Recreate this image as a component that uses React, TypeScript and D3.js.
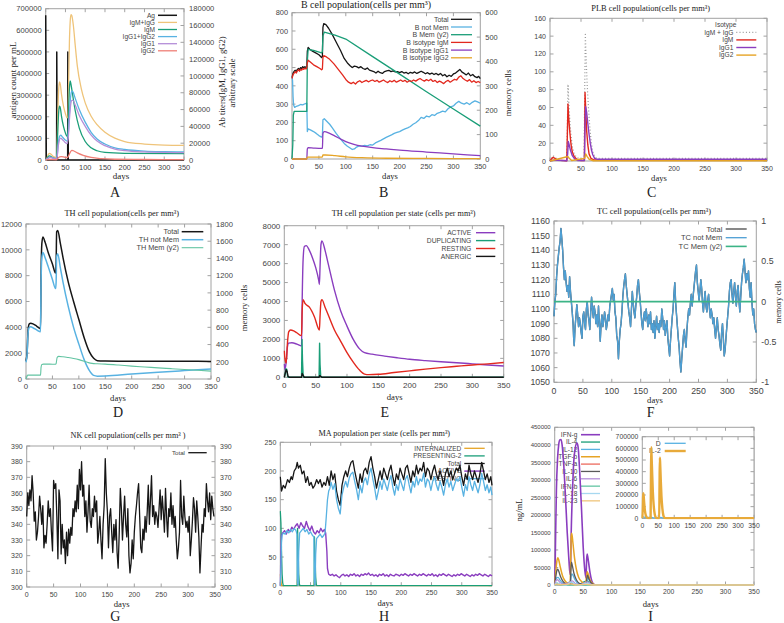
import React from 'react';
import * as d3 from 'd3';

type Pt = [number, number];

const dayTicks = [0, 50, 100, 150, 200, 250, 300, 350];

// ---------- A: antigen and antibody titers ----------
const agTicks = [0, 100000, 200000, 300000, 400000, 500000, 600000, 700000];
const abTicks = [0, 20000, 40000, 60000, 80000, 100000, 120000, 140000, 160000, 180000];
const antigen: Pt[] = [[0, 670000], [1.5, 0], [27.6, 0], [28, 500000], [29.2, 0], [55.6, 0], [56, 500000], [57.2, 0], [350, 0]];
const igmIgg: Pt[] = [[0, 0], [3, 2000], [7, 7000], [10, 8000], [14, 6500], [20, 4000], [27, 2500], [29, 20000], [31, 60000], [33, 85000], [35, 93000], [37, 90000], [40, 78000], [45, 64000], [50, 55000], [54, 50000], [56, 52000], [58, 90000], [60, 140000], [62, 165000], [64, 173000], [66, 172000], [70, 160000], [75, 135000], [80, 112000], [90, 85000], [100, 68000], [115, 52000], [130, 42000], [150, 33000], [175, 26000], [200, 22000], [250, 19000], [300, 17800], [350, 17500]];
const igmTiter: Pt[] = [[0, 0], [3, 1500], [7, 4500], [10, 5000], [15, 3500], [22, 2000], [27, 1500], [29, 15000], [31, 40000], [33, 58000], [35, 64000], [37, 62000], [40, 52000], [45, 40000], [50, 32000], [54, 28000], [56, 32000], [58, 60000], [60, 85000], [62, 94000], [64, 90000], [68, 78000], [75, 58000], [85, 38000], [100, 22000], [115, 14500], [130, 11000], [150, 9000], [200, 8000], [350, 7500]];
const igg12Titer: Pt[] = [[0, 0], [5, 2000], [10, 3500], [15, 3000], [27, 1500], [29, 5000], [32, 20000], [35, 28000], [38, 29500], [42, 27500], [48, 24500], [54, 22500], [57, 30000], [60, 55000], [63, 75000], [66, 82000], [69, 81000], [75, 73000], [85, 60000], [100, 45000], [115, 33000], [130, 25000], [150, 19000], [175, 14500], [200, 12500], [250, 10500], [300, 9800], [350, 9500]];
const igg1Titer: Pt[] = [[0, 0], [5, 1700], [10, 3000], [15, 2500], [27, 1200], [29, 4000], [32, 17000], [35, 24500], [38, 26000], [42, 24500], [48, 21500], [54, 19500], [57, 26000], [60, 48000], [63, 65000], [66, 71000], [69, 71000], [75, 65000], [85, 53000], [100, 40000], [115, 29500], [130, 22500], [150, 17000], [175, 13000], [200, 11200], [250, 9600], [300, 9000], [350, 8800]];
const igg2Titer: Pt[] = [[0, 0], [5, 400], [10, 600], [27, 300], [30, 1500], [35, 3800], [40, 4000], [48, 3300], [55, 3000], [58, 5000], [62, 9000], [66, 11500], [70, 11000], [80, 8500], [95, 5500], [115, 3000], [140, 1600], [175, 900], [250, 600], [350, 500]];

// ---------- B: B cell population ----------
const bTicks = [0, 100, 200, 300, 400, 500, 600, 700, 800];
const bMemTicks = [0, 100, 200, 300, 400, 500, 600];
const bTotal: Pt[] = [[0, 445], [2, 470], [4, 480], [6, 485], [8, 478], [10, 490], [12, 495], [14, 488], [16, 500], [18, 495], [20, 505], [22, 498], [24, 505], [26, 500], [27.5, 505], [28.5, 590], [30, 610], [33, 600], [38, 590], [44, 580], [50, 570], [55, 555], [56.5, 560], [57.5, 720], [59, 740], [63, 735], [68, 715], [75, 680], [82, 640], [90, 595], [97, 550], [103, 525], [108, 510], [112, 500], [116, 508], [120, 505], [124, 498], [128, 505], [132, 495], [136, 490], [140, 498], [144, 486], [148, 482], [152, 478], [156, 470], [160, 480], [164, 472], [168, 468], [172, 478], [176, 482], [180, 485], [184, 478], [188, 482], [192, 476], [196, 478], [200, 472], [204, 478], [208, 470], [212, 474], [216, 466], [220, 474], [224, 470], [228, 476], [232, 468], [236, 474], [240, 480], [244, 474], [248, 466], [252, 472], [256, 464], [260, 470], [264, 462], [268, 468], [272, 460], [276, 468], [280, 455], [284, 462], [288, 450], [292, 458], [296, 452], [300, 465], [304, 470], [308, 480], [312, 490], [316, 475], [320, 468], [324, 460], [328, 470], [332, 455], [336, 462], [340, 450], [344, 445], [347, 452], [350, 440]];
const bNotMem: Pt[] = [[0, 450], [1, 430], [2, 340], [3, 295], [5, 282], [8, 288], [12, 292], [16, 298], [20, 296], [24, 302], [27.5, 305], [28.5, 150], [30, 165], [35, 158], [40, 150], [45, 140], [50, 128], [55, 120], [56.5, 125], [57.5, 215], [60, 220], [65, 205], [70, 190], [75, 170], [82, 140], [90, 110], [97, 85], [103, 70], [108, 60], [112, 52], [116, 55], [120, 65], [125, 72], [130, 70], [135, 75], [140, 72], [145, 78], [150, 76], [155, 88], [160, 95], [165, 102], [170, 110], [175, 118], [180, 125], [185, 132], [190, 140], [195, 145], [200, 150], [205, 158], [210, 165], [215, 170], [220, 178], [225, 190], [230, 198], [235, 210], [240, 228], [245, 222], [250, 235], [255, 230], [260, 242], [265, 238], [270, 250], [275, 255], [280, 262], [285, 258], [290, 275], [295, 285], [300, 290], [305, 305], [310, 315], [315, 305], [320, 300], [325, 308], [330, 298], [335, 310], [340, 318], [345, 312], [350, 305]];
const bMem: Pt[] = [[0, 0], [1.5, 60], [2.5, 180], [4, 195], [27.5, 195], [28.5, 400], [30, 450], [40, 445], [55, 435], [56.5, 440], [57.5, 505], [60, 520], [80, 508], [100, 492], [150, 420], [200, 348], [250, 276], [300, 205], [350, 135]];
const bIgM: Pt[] = [[0, 440], [2, 462], [4, 470], [6, 478], [8, 470], [10, 482], [12, 488], [14, 480], [16, 490], [18, 486], [20, 495], [22, 490], [24, 497], [26, 492], [27.5, 498], [28.5, 525], [30, 540], [34, 530], [40, 515], [46, 505], [52, 495], [55, 488], [56.5, 492], [57.5, 555], [59, 565], [64, 558], [70, 545], [78, 520], [86, 490], [94, 460], [100, 435], [105, 420], [110, 412], [114, 420], [118, 410], [122, 422], [126, 428], [130, 418], [134, 425], [138, 430], [142, 422], [146, 428], [150, 432], [154, 424], [158, 430], [162, 420], [166, 426], [170, 432], [174, 424], [178, 418], [182, 428], [186, 422], [190, 430], [194, 420], [198, 426], [202, 432], [206, 424], [210, 430], [214, 420], [218, 428], [222, 424], [226, 432], [230, 426], [234, 434], [238, 440], [242, 432], [246, 426], [250, 434], [254, 428], [258, 436], [262, 424], [266, 430], [270, 418], [274, 426], [278, 420], [282, 412], [286, 424], [290, 430], [294, 420], [298, 428], [302, 436], [306, 432], [310, 448], [314, 455], [318, 440], [322, 432], [326, 425], [330, 434], [334, 420], [338, 428], [342, 418], [346, 424], [350, 418]];
const bIgG1: Pt[] = [[0, 0], [27.5, 0], [28.5, 55], [30, 62], [40, 60], [55, 58], [56.5, 60], [57.5, 140], [60, 150], [70, 140], [80, 125], [90, 110], [100, 95], [115, 80], [130, 70], [150, 62], [175, 55], [200, 48], [250, 38], [300, 28], [350, 18]];
const bIgG2: Pt[] = [[0, 0], [27.5, 0], [28.5, 10], [55, 10], [56.5, 12], [57.5, 22], [62, 22], [80, 18], [100, 12], [130, 7], [175, 4], [250, 3], [350, 2]];

// ---------- C: plasma B cells ----------
const plbTicks = [0, 20, 40, 60, 80, 100, 120, 140, 160];
const plbAll: Pt[] = [[0, 0], [3, 3], [5, 6], [8, 4], [12, 2], [20, 0.5], [27, 0.5], [28, 40], [29, 86], [30, 70], [32, 45], [34, 28], [36, 16], [39, 8], [43, 4], [50, 2], [55, 2], [56, 80], [57, 142], [58, 120], [60, 85], [62, 60], [64, 40], [66, 25], [68, 14], [70, 8], [73, 4], [78, 3], [100, 3], [350, 3]];
const plbIgM: Pt[] = [[0, 0], [3, 3], [5, 4], [8, 3], [12, 1], [27, 0.3], [28, 30], [29, 64], [30, 50], [32, 32], [34, 18], [36, 10], [39, 5], [43, 2], [50, 0.5], [55.5, 0.5], [56.5, 77], [57.5, 60], [59, 35], [61, 18], [63, 8], [66, 3], [70, 1.5], [80, 1], [350, 1]];
const plbIgG1: Pt[] = [[0, 0], [5, 1], [27, 0.2], [28.5, 8], [29.5, 22], [31, 18], [33, 12], [36, 6], [40, 2], [45, 0.5], [55.5, 0.5], [56.5, 40], [57.5, 61], [59, 55], [61, 42], [63, 30], [65, 20], [67, 12], [69, 7], [72, 3], [76, 2], [350, 2]];
const plbIgG2: Pt[] = [[0, 0], [29, 5], [31, 3], [35, 0.5], [56, 3], [57.5, 8], [60, 5], [63, 2], [70, 0.3], [350, 0.3]];

// ---------- D: TH cells ----------
const thTicks = [0, 2000, 4000, 6000, 8000, 10000, 12000];
const thMemTicks = [0, 200, 400, 600, 800, 1000, 1200, 1400, 1600, 1800];
const thTotal: Pt[] = [[0, 1400], [2, 2000], [4, 3800], [6, 4250], [9, 4320], [14, 4250], [20, 4100], [27.5, 3900], [28.5, 8000], [30, 10500], [32, 11000], [36, 10600], [42, 9800], [50, 8900], [56, 8200], [57, 9000], [58, 11400], [60, 11500], [65, 10500], [70, 9400], [80, 7500], [90, 6000], [100, 4600], [110, 3200], [120, 2100], [128, 1600], [135, 1420], [150, 1400], [200, 1380], [250, 1380], [300, 1370], [350, 1360]];
const thNotMem: Pt[] = [[0, 1300], [2, 1900], [4, 3600], [6, 3980], [9, 4050], [14, 3950], [20, 3800], [27.5, 3650], [28.5, 7500], [30, 9400], [32, 9800], [36, 9400], [42, 8700], [50, 7700], [56, 7000], [57, 7500], [58, 9500], [60, 9700], [65, 8600], [70, 7500], [80, 5600], [90, 4000], [100, 2700], [110, 1500], [120, 650], [128, 280], [135, 220], [150, 230], [200, 380], [250, 520], [300, 650], [350, 780]];
const thMem: Pt[] = [[0, 0], [1.5, 150], [3, 300], [27.5, 300], [28.5, 900], [30, 1120], [33, 1150], [45, 1150], [56, 1140], [57, 1200], [59, 1680], [62, 1750], [70, 1720], [80, 1660], [90, 1590], [100, 1500], [110, 1380], [118, 1270], [125, 1210], [135, 1180], [150, 1150], [175, 1080], [200, 1000], [225, 930], [250, 860], [275, 800], [300, 740], [325, 680], [350, 610]];

// ---------- E: TH cells per state ----------
const thStateTicks = [0, 1000, 2000, 3000, 4000, 5000, 6000, 7000, 8000];
const thActive: Pt[] = [[0, 700], [1, 400], [3, 800], [5, 1600], [7, 1800], [12, 1820], [20, 1750], [27.5, 1650], [28.5, 4000], [30, 6200], [32, 6900], [35, 6950], [40, 6700], [45, 6300], [50, 5800], [55, 5100], [56, 4900], [57, 5800], [58.5, 7000], [60, 7200], [65, 6700], [70, 6000], [80, 4600], [90, 3500], [100, 2700], [110, 2000], [120, 1500], [128, 1300], [140, 1220], [160, 1120], [180, 1030], [200, 950], [225, 880], [250, 820], [275, 770], [300, 710], [325, 650], [350, 600]];
const thDuplicating: Pt[] = [[0, 0], [1, 100], [2.5, 450], [4, 420], [5, 100], [6, 0], [27.5, 0], [28.3, 2000], [29, 900], [30, 150], [31, 0], [55.5, 0], [56.3, 1800], [57, 700], [58, 100], [59, 0], [350, 0]];
const thResting: Pt[] = [[0, 1400], [1, 1000], [3, 750], [5, 1800], [7, 2400], [10, 2500], [15, 2450], [20, 2350], [27.5, 2200], [28.5, 3500], [30, 4100], [33, 3900], [40, 3700], [48, 3200], [56, 2500], [57, 3200], [58.5, 4000], [60, 4100], [65, 3700], [70, 3300], [80, 2500], [90, 1900], [100, 1300], [110, 800], [120, 380], [128, 170], [135, 140], [150, 160], [175, 250], [200, 340], [225, 430], [250, 510], [275, 580], [300, 650], [325, 710], [350, 780]];
const thAnergic: Pt[] = [[0, 0], [1, 150], [3, 400], [4.5, 300], [6, 50], [8, 0], [27.5, 0], [28.5, 200], [30, 100], [32, 0], [55.5, 0], [56.5, 100], [58, 50], [60, 0], [350, 0]];

// ---------- F: TC cells ----------
const tcTicks = [1050, 1060, 1070, 1080, 1090, 1100, 1110, 1120, 1130, 1140, 1150, 1160];
const tcMemTicks = [-1, -0.5, 0, 0.5, 1];
const tcNotMem: Pt[] = [[0, 1095], [1.5, 1105], [3, 1110], [4.5, 1122], [6, 1130], [7.5, 1136], [9, 1142], [10.5, 1146], [12, 1155], [13.5, 1148], [15, 1140], [16.5, 1128], [18, 1120], [19.5, 1126], [21, 1118], [22.5, 1112], [24, 1116], [25.5, 1108], [27, 1122], [28.5, 1112], [30, 1105], [31.5, 1098], [33, 1090], [34, 1080], [35, 1075], [36.5, 1088], [38, 1095], [39.5, 1103], [41, 1096], [42.5, 1088], [44, 1094], [45.5, 1090], [47, 1084], [48.5, 1080], [50, 1095], [51.5, 1098], [53, 1090], [54.5, 1086], [56, 1100], [57.5, 1105], [59, 1096], [60.5, 1092], [62, 1086], [63.5, 1098], [65, 1108], [66.5, 1100], [68, 1094], [69.5, 1102], [71, 1098], [72.5, 1090], [74, 1096], [75.5, 1088], [77, 1102], [78.5, 1090], [80, 1078], [81.5, 1090], [83, 1096], [84.5, 1088], [86, 1092], [87.5, 1098], [89, 1094], [90.5, 1086], [92, 1090], [93.5, 1096], [95, 1092], [96.5, 1102], [98, 1106], [99.5, 1110], [101, 1114], [102.5, 1106], [104, 1110], [105.5, 1098], [107, 1094], [108.5, 1082], [110, 1078], [111.5, 1066], [113, 1078], [114.5, 1086], [116, 1090], [117.5, 1098], [119, 1108], [120.5, 1115], [122, 1120], [123.5, 1124], [125, 1116], [126.5, 1110], [128, 1104], [129.5, 1098], [131, 1094], [132.5, 1088], [134, 1100], [135.5, 1112], [137, 1104], [138.5, 1098], [140, 1094], [141.5, 1102], [143, 1108], [144.5, 1116], [146, 1120], [147.5, 1112], [149, 1106], [150.5, 1098], [152, 1090], [153.5, 1086], [155, 1094], [156.5, 1098], [158, 1092], [159.5, 1100], [161, 1094], [162.5, 1088], [164, 1096], [165.5, 1090], [167, 1098], [168.5, 1086], [170, 1090], [171.5, 1084], [173, 1092], [174.5, 1080], [176, 1088], [177.5, 1095], [179, 1086], [180.5, 1090], [182, 1084], [183.5, 1092], [185, 1088], [186.5, 1100], [188, 1094], [189.5, 1086], [191, 1092], [192.5, 1082], [194, 1088], [195.5, 1092], [197, 1080], [198.5, 1074], [200, 1068], [201.5, 1078], [203, 1086], [204.5, 1094], [206, 1100], [207.5, 1110], [209, 1118], [210.5, 1104], [212, 1096], [213.5, 1088], [215, 1080], [216.5, 1074], [218, 1064], [219.5, 1057], [221, 1066], [222.5, 1074], [224, 1082], [225.5, 1086], [227, 1078], [228.5, 1074], [230, 1086], [231.5, 1094], [233, 1100], [234.5, 1096], [236, 1104], [237.5, 1110], [239, 1102], [240.5, 1108], [242, 1114], [243.5, 1120], [245, 1126], [246.5, 1130], [248, 1118], [249.5, 1112], [251, 1106], [252.5, 1112], [254, 1120], [255.5, 1114], [257, 1104], [258.5, 1098], [260, 1106], [261.5, 1112], [263, 1102], [264.5, 1098], [266, 1106], [267.5, 1110], [269, 1100], [270.5, 1094], [272, 1100], [273.5, 1096], [275, 1090], [276.5, 1094], [278, 1086], [279.5, 1080], [281, 1088], [282.5, 1094], [284, 1086], [285.5, 1082], [287, 1076], [288.5, 1072], [290, 1084], [291.5, 1090], [293, 1080], [294.5, 1068], [296, 1072], [297.5, 1080], [299, 1088], [300.5, 1095], [302, 1102], [303.5, 1112], [305, 1118], [306.5, 1120], [308, 1110], [309.5, 1104], [311, 1112], [312.5, 1118], [314, 1108], [315.5, 1102], [317, 1112], [318.5, 1116], [320, 1106], [321.5, 1098], [323, 1108], [324.5, 1118], [326, 1124], [327.5, 1128], [329, 1134], [330.5, 1126], [332, 1118], [333.5, 1124], [335, 1120], [336.5, 1126], [338, 1114], [339.5, 1108], [341, 1118], [342.5, 1104], [344, 1096], [345.5, 1100], [347, 1090], [348.5, 1086], [350, 1084]];
const tcMem: Pt[] = [[0, 0], [350, 0]];

// ---------- G: NK cells ----------
const nkTicks = [300, 310, 320, 330, 340, 350, 360, 370, 380, 390];
const nkTotal: Pt[] = [[0, 345], [2, 360], [4, 352], [6, 362], [8, 355], [10, 371], [12, 360], [14, 342], [16, 348], [18, 330], [20, 335], [22, 345], [24, 358], [26, 350], [28, 340], [30, 352], [32, 325], [34, 333], [36, 328], [38, 340], [40, 355], [42, 345], [44, 350], [46, 335], [48, 323], [50, 368], [52, 363], [54, 366], [56, 345], [58, 318], [60, 362], [62, 355], [64, 321], [66, 340], [68, 325], [70, 330], [72, 315], [74, 335], [76, 320], [78, 337], [80, 328], [82, 338], [84, 333], [86, 350], [88, 345], [90, 355], [92, 348], [94, 365], [96, 350], [98, 375], [100, 362], [102, 380], [104, 358], [106, 365], [108, 345], [110, 355], [112, 335], [114, 348], [116, 365], [118, 342], [120, 338], [122, 350], [124, 345], [126, 358], [128, 348], [130, 355], [132, 328], [134, 335], [136, 345], [138, 330], [140, 318], [142, 340], [144, 352], [146, 382], [148, 360], [150, 348], [152, 325], [154, 345], [156, 350], [158, 335], [160, 322], [162, 340], [164, 330], [166, 343], [168, 322], [170, 312], [172, 335], [174, 363], [176, 350], [178, 330], [180, 345], [182, 358], [184, 340], [186, 332], [188, 350], [190, 320], [192, 309], [194, 315], [196, 330], [198, 318], [200, 335], [202, 345], [204, 352], [206, 360], [208, 366], [210, 345], [212, 325], [214, 322], [216, 337], [218, 330], [220, 345], [222, 335], [224, 348], [226, 365], [228, 340], [230, 355], [232, 371], [234, 345], [236, 352], [238, 340], [240, 348], [242, 345], [244, 338], [246, 350], [248, 362], [250, 343], [252, 358], [254, 348], [256, 335], [258, 363], [260, 345], [262, 332], [264, 350], [266, 345], [268, 360], [270, 340], [272, 352], [274, 338], [276, 345], [278, 330], [280, 318], [282, 325], [284, 335], [286, 368], [288, 345], [290, 340], [292, 358], [294, 345], [296, 338], [298, 342], [300, 335], [302, 345], [304, 320], [306, 330], [308, 342], [310, 357], [312, 350], [314, 335], [316, 355], [318, 345], [320, 332], [322, 309], [324, 325], [326, 340], [328, 335], [330, 350], [332, 345], [334, 366], [336, 355], [338, 348], [340, 360], [342, 343], [344, 358], [346, 350], [348, 345]];

// ---------- H: macrophages per state ----------
const maTicks = [0, 50, 100, 150, 200, 250];
const maInternalized: Pt[] = [[0, 20], [1, 8], [2, 0], [28, 0], [28.5, 12], [29.5, 3], [30.5, 0], [56, 0], [56.5, 10], [57.5, 3], [58.5, 0], [350, 0]];
const maPresenting: Pt[] = [[0, 130], [1, 110], [2, 60], [3, 20], [4, 5], [5, 0], [28, 0], [28.5, 100], [29.5, 60], [30.5, 20], [31.5, 3], [32.5, 0], [56, 0], [56.5, 85], [57.5, 50], [58.5, 15], [59.5, 2], [60.5, 0], [350, 0]];
const maTotal: Pt[] = [[0, 190], [2, 165], [5, 175], [8, 170], [12, 185], [15, 180], [18, 190], [20, 185], [23, 200], [26, 205], [28, 215], [30, 205], [33, 210], [36, 195], [39, 200], [42, 180], [45, 190], [48, 175], [51, 180], [54, 170], [57, 175], [60, 185], [63, 178], [66, 185], [69, 172], [72, 180], [75, 175], [78, 190], [81, 175], [84, 200], [87, 185], [90, 195], [93, 165], [96, 150], [99, 140], [102, 175], [105, 190], [108, 200], [111, 190], [114, 205], [117, 215], [120, 218], [123, 200], [126, 185], [129, 170], [132, 195], [135, 180], [138, 200], [141, 205], [144, 195], [147, 215], [150, 225], [153, 205], [156, 190], [159, 170], [162, 185], [165, 200], [168, 185], [171, 205], [174, 195], [177, 185], [180, 200], [183, 210], [186, 190], [189, 175], [192, 195], [195, 185], [198, 205], [201, 195], [204, 185], [207, 205], [210, 210], [213, 195], [216, 180], [219, 200], [222, 190], [225, 210], [228, 195], [231, 205], [234, 200], [237, 215], [240, 190], [243, 205], [246, 200], [249, 185], [252, 200], [255, 210], [258, 195], [261, 185], [264, 200], [267, 190], [270, 175], [273, 195], [276, 205], [279, 190], [282, 200], [285, 185], [288, 195], [291, 205], [294, 200], [297, 210], [300, 190], [303, 175], [306, 195], [309, 185], [312, 210], [315, 195], [318, 185], [321, 200], [324, 190], [327, 180], [330, 195], [333, 215], [336, 200], [339, 185], [342, 195], [345, 180], [348, 190], [350, 175]];
const maActive: Pt[] = [[0, 0], [1, 60], [2, 88], [4, 92], [7, 96], [10, 90], [13, 98], [16, 94], [19, 102], [22, 98], [25, 104], [28, 108], [31, 100], [34, 110], [37, 104], [40, 100], [43, 112], [46, 102], [49, 96], [52, 104], [55, 94], [58, 90], [61, 96], [64, 92], [67, 100], [70, 94], [73, 98], [75, 92], [77, 60], [78, 30], [80, 20], [83, 18], [86, 20], [89, 17], [92, 19], [95, 16], [98, 14], [101, 18], [104, 20], [107, 17], [110, 19], [113, 16], [116, 20], [119, 18], [122, 21], [125, 17], [128, 19], [131, 16], [134, 20], [137, 18], [140, 21], [143, 19], [146, 22], [149, 18], [152, 20], [155, 17], [158, 19], [161, 16], [164, 20], [167, 18], [170, 21], [173, 17], [176, 19], [179, 16], [182, 20], [185, 18], [188, 17], [191, 20], [194, 19], [197, 17], [200, 20], [203, 18], [206, 21], [209, 19], [212, 17], [215, 20], [218, 18], [221, 21], [224, 19], [227, 17], [230, 20], [233, 18], [236, 21], [239, 19], [242, 17], [245, 20], [248, 18], [251, 21], [254, 17], [257, 19], [260, 16], [263, 20], [266, 18], [269, 21], [272, 19], [275, 17], [278, 20], [281, 18], [284, 16], [287, 19], [290, 17], [293, 20], [296, 18], [299, 21], [302, 19], [305, 17], [308, 20], [311, 18], [314, 16], [317, 19], [320, 17], [323, 20], [326, 18], [329, 21], [332, 19], [335, 17], [338, 20], [341, 18], [344, 16], [347, 19], [350, 17]];
const maResting: Pt[] = [[0, 0], [1, 30], [2, 75], [3, 88], [5, 92], [8, 90], [11, 96], [14, 92], [17, 98], [20, 94], [23, 100], [26, 96], [27.5, 90], [28.5, 5], [29.5, 0], [30.5, 60], [32, 92], [35, 96], [38, 100], [41, 94], [44, 98], [47, 90], [50, 94], [53, 88], [55.5, 85], [56.5, 5], [57.5, 0], [58.5, 55], [60, 82], [63, 86], [66, 90], [69, 84], [72, 88], [74, 92], [76, 120], [78, 150], [80, 165], [82, 170], [84, 180], [87, 168], [90, 178], [93, 150], [96, 135], [99, 125], [102, 158], [105, 172], [108, 182], [111, 172], [114, 188], [117, 195], [120, 198], [123, 182], [126, 168], [129, 150], [132, 175], [135, 162], [138, 182], [141, 188], [144, 176], [147, 195], [150, 205], [153, 186], [156, 170], [159, 150], [162, 165], [165, 182], [168, 168], [171, 186], [174, 176], [177, 166], [180, 182], [183, 192], [186, 172], [189, 158], [192, 176], [195, 166], [198, 186], [201, 176], [204, 166], [207, 186], [210, 192], [213, 176], [216, 162], [219, 182], [222, 172], [225, 190], [228, 176], [231, 186], [234, 182], [237, 196], [240, 172], [243, 186], [246, 182], [249, 166], [252, 182], [255, 190], [258, 176], [261, 166], [264, 182], [267, 172], [270, 158], [273, 176], [276, 186], [279, 172], [282, 182], [285, 166], [288, 176], [291, 186], [294, 182], [297, 190], [300, 172], [303, 156], [306, 176], [309, 166], [312, 190], [315, 176], [318, 166], [321, 182], [324, 172], [327, 162], [330, 176], [333, 196], [336, 182], [339, 166], [342, 176], [345, 162], [348, 172], [350, 158]];

// ---------- I: cytokines and interleukins ----------
const cytoTicks = [0, 50000, 100000, 150000, 200000, 250000, 300000, 350000, 400000, 450000];
const il2Ticks = [0, 100000, 200000, 300000, 400000, 500000, 600000, 700000];
const ifnG: Pt[] = [[0, 0], [1, 80000], [2, 180000], [3, 270000], [5, 360000], [7, 400000], [9, 414000], [11, 415000], [13, 400000], [16, 340000], [19, 250000], [22, 150000], [25, 70000], [27, 30000], [28, 60000], [29, 150000], [31, 260000], [33, 340000], [36, 390000], [39, 405000], [41, 395000], [44, 320000], [47, 220000], [50, 110000], [53, 40000], [55, 20000], [56, 70000], [57, 88000], [59, 70000], [62, 35000], [65, 12000], [68, 3000], [72, 0], [350, 0]];
const il4: Pt[] = [[0, 0], [3, 5000], [6, 4000], [12, 800], [28.5, 8000], [33, 3000], [40, 500], [57, 12000], [62, 3000], [70, 0], [350, 0]];
const il12: Pt[] = [[0, 0], [2, 15000], [4, 21000], [6, 22000], [9, 15000], [13, 7000], [18, 2500], [27.5, 1000], [28.5, 20000], [30, 32000], [32, 28000], [35, 17000], [39, 7000], [45, 2000], [55.5, 1000], [56.5, 14000], [58, 20000], [60, 15000], [63, 7000], [68, 1500], [72, 0], [350, 0]];
const tgfB: Pt[] = [[0, 0], [2, 40000], [4, 70000], [5.5, 78000], [7, 72000], [10, 50000], [14, 25000], [18, 12000], [22, 6000], [27, 3000], [28, 60000], [29, 140000], [30, 148000], [32, 120000], [35, 75000], [38, 45000], [42, 22000], [47, 10000], [54, 4000], [56, 25000], [57, 38000], [59, 30000], [62, 15000], [66, 5000], [70, 1000], [75, 0], [350, 0]];
const tnfA: Pt[] = [[0, 0], [3, 3000], [8, 1000], [28.5, 4000], [34, 1000], [57, 3000], [63, 500], [70, 0], [350, 0]];
const il10: Pt[] = [[0, 0], [2, 25000], [4, 42000], [5.5, 45000], [7, 40000], [10, 25000], [14, 12000], [18, 5000], [24, 1500], [27.5, 1000], [28.5, 45000], [29.5, 65000], [31, 55000], [34, 32000], [38, 15000], [43, 5000], [50, 1500], [55.5, 1000], [56.5, 20000], [57.5, 28000], [60, 18000], [63, 8000], [67, 2000], [72, 0], [350, 0]];
const il6: Pt[] = [[0, 0], [2, 12000], [5, 15000], [9, 8000], [15, 2000], [28.5, 10000], [31, 12000], [36, 4000], [45, 500], [56.5, 9000], [60, 6000], [66, 1000], [72, 0], [350, 0]];
const ifnB: Pt[] = [[0, 0], [3, 2000], [10, 0], [350, 0]];
const il18: Pt[] = [[0, 0], [4, 6000], [10, 2000], [20, 0], [29, 8000], [36, 2000], [45, 0], [57, 5000], [64, 1000], [70, 0], [350, 0]];
const il23: Pt[] = [[0, 0], [3, 2500], [10, 500], [29, 3000], [36, 0], [57, 2000], [64, 0], [350, 0]];
const dangerSignal: Pt[] = [[0, 0], [2, 8000], [5, 12000], [10, 5000], [28, 9000], [35, 4000], [56, 8000], [65, 2000], [80, 0], [350, 0]];
const il2: Pt[] = [[0, 0], [1, 60000], [2, 150000], [3, 215000], [4, 200000], [6, 130000], [8, 70000], [11, 25000], [15, 5000], [20, 0], [26, 0], [27, 300000], [28, 610000], [29, 540000], [31, 380000], [33, 230000], [36, 100000], [39, 35000], [43, 5000], [48, 0], [53, 0], [54, 280000], [55, 520000], [56, 470000], [58, 320000], [60, 190000], [63, 80000], [66, 25000], [70, 3000], [75, 0], [350, 0]];

const SANS = 'Liberation Sans, Arial, sans-serif';
const SERIF = 'Liberation Serif, Times New Roman, serif';

const COL = {
  black: '#161616',
  purple: '#8a3dbf',
  green: '#1a9e78',
  blue: '#58b2e2',
  orange: '#e6a425',
  red: '#e2281e',
  lavender: '#b48ed8',
  salmon: '#ef7f76',
  gray: '#5a5a5a',
  teal: '#62c4a2',
  pale: '#a6d8f0',
  sand: '#efc47a',
};

interface Series { label?: string; data: Pt[]; color: string; w?: number; dash?: string; y2?: boolean; smooth?: boolean }
interface Label { text: string; x: number; y: number; size: number; rot?: boolean; font?: string }
interface Legend { x: number; l0: number; l1: number; y0: number; dy: number; fs: number; title?: [string, number, number] }
interface Spec {
  id: string;
  box: [number, number, number, number];
  yDom: [number, number];
  yTicks: number[];
  y2Dom?: [number, number];
  y2Ticks?: number[];
  mirrorLabels?: boolean;
  fsY: number;
  fsX: number;
  bg?: boolean;
  legend?: Legend;
  series: Series[];
  labels: Label[];
}

const serif = (text: string, x: number, y: number, size: number, rot = false): Label => ({ text, x, y, size, rot, font: SERIF });

const panels: Spec[] = [
  {
    id: 'a', box: [45.7, 8.7, 184, 160], yDom: [0, 700000], yTicks: agTicks, y2Dom: [0, 180000], y2Ticks: abTicks,
    fsY: 7.6, fsX: 7.4,
    legend: { x: 155, l0: 158, l1: 177, y0: 15.3, dy: 7.1, fs: 6.6 },
    series: [
      { label: 'Ag', data: antigen, color: COL.black, w: 1.5 },
      { label: 'IgM+IgG', data: igmIgg, color: COL.sand, y2: true, smooth: true },
      { label: 'IgM', data: igmTiter, color: COL.green, y2: true, smooth: true },
      { label: 'IgG1+IgG2', data: igg12Titer, color: COL.blue, y2: true, smooth: true },
      { label: 'IgG1', data: igg1Titer, color: COL.lavender, y2: true, smooth: true },
      { label: 'IgG2', data: igg2Titer, color: COL.salmon, y2: true, smooth: true },
    ],
    labels: [
      serif('days', 121, 178.5, 9),
      serif('antigen count per mL', 12.5, 80, 9, true),
      serif('Ab titers(IgM, IgG1, gG2)', 221.5, 82, 8.6, true),
      serif('arbitrary scale', 232, 83, 8.6, true),
      serif('A', 115, 197, 14),
    ],
  },
  {
    id: 'b', box: [292, 12.7, 480.3, 159], yDom: [0, 800], yTicks: bTicks, y2Dom: [0, 600], y2Ticks: bMemTicks,
    fsY: 7.4, fsX: 7.4,
    legend: { x: 448.7, l0: 451, l1: 472, y0: 19.3, dy: 7.7, fs: 7 },
    series: [
      { label: 'Total', data: bTotal, color: COL.black },
      { label: 'B not Mem', data: bNotMem, color: COL.blue },
      { label: 'B Mem (y2)', data: bMem, color: COL.green, y2: true },
      { label: 'B isotype IgM', data: bIgM, color: COL.red },
      { label: 'B isotype IgG1', data: bIgG1, color: COL.purple, smooth: true },
      { label: 'B isotype IgG2', data: bIgG2, color: COL.orange, smooth: true },
    ],
    labels: [
      serif('B cell population(cells per mm³)', 366, 8, 10),
      serif('days', 390, 178.5, 8.6),
      serif('memory cells', 508, 93, 8.6, true),
      serif('B', 383.7, 197, 14),
    ],
  },
  {
    id: 'c', box: [550, 18.3, 767, 161], yDom: [0, 160], yTicks: plbTicks,
    fsY: 7, fsX: 7,
    legend: { x: 733.3, l0: 736.3, l1: 756.3, y0: 32.3, dy: 7.6, fs: 6.6, title: ['Isotype', 725.7, 25] },
    series: [
      { label: 'IgM + IgG', data: plbAll, color: '#9a9a9a', dash: '1,2.2', w: 1.2 },
      { label: 'IgM', data: plbIgM, color: COL.red, w: 1.4 },
      { label: 'IgG1', data: plbIgG1, color: COL.purple, w: 1.4 },
      { label: 'IgG2', data: plbIgG2, color: COL.orange, w: 1.4 },
    ],
    labels: [
      serif('PLB cell population(cells per mm³)', 650.7, 11, 8.4),
      serif('days', 659, 180.5, 8.6),
      serif('C', 651.7, 196.5, 14),
    ],
  },
  {
    id: 'd', box: [26, 224, 211, 379], yDom: [0, 12000], yTicks: thTicks, y2Dom: [0, 1800], y2Ticks: thMemTicks,
    fsY: 7.6, fsX: 7.8,
    legend: { x: 179, l0: 181.7, l1: 203.3, y0: 231.7, dy: 8, fs: 7.3 },
    series: [
      { label: 'Total', data: thTotal, color: COL.black, w: 1.5, smooth: true },
      { label: 'TH not Mem', data: thNotMem, color: COL.blue, w: 1.5, smooth: true },
      { label: 'TH Mem (y2)', data: thMem, color: COL.teal, w: 1.1, smooth: true },
    ],
    labels: [
      serif('TH cell population(cells per mm³)', 121.7, 216, 8.4),
      serif('days', 118, 400.5, 8.6),
      serif('memory cells', 244, 308, 8.6, true),
      serif('D', 118, 416.5, 14),
    ],
  },
  {
    id: 'e', box: [284.3, 225.7, 503.7, 377.3], yDom: [0, 8000], yTicks: thStateTicks,
    fsY: 8, fsX: 8,
    legend: { x: 471.3, l0: 476, l1: 495.3, y0: 232.7, dy: 7.9, fs: 6.7 },
    series: [
      { label: 'ACTIVE', data: thActive, color: COL.purple, w: 1.4, smooth: true },
      { label: 'DUPLICATING', data: thDuplicating, color: COL.green, w: 1.4 },
      { label: 'RESTING', data: thResting, color: COL.red, w: 1.4, smooth: true },
      { label: 'ANERGIC', data: thAnergic, color: COL.black, w: 1.4 },
    ],
    labels: [
      serif('TH cell population per state (cells per mm³)', 403.7, 216, 8.2),
      serif('days', 394.7, 400, 8.6),
      serif('E', 384.7, 416.5, 14),
    ],
  },
  {
    id: 'f', box: [554, 221, 756.3, 382.3], yDom: [1050, 1160], yTicks: tcTicks, y2Dom: [-1, 1], y2Ticks: tcMemTicks,
    fsY: 8.8, fsX: 8.8,
    legend: { x: 722.3, l0: 725.7, l1: 746.7, y0: 229, dy: 8.7, fs: 7.5 },
    series: [
      { label: 'Total', data: tcNotMem, color: '#555555', w: 1.4 },
      { label: 'TC not Mem', data: tcNotMem, color: '#4d9fd4', w: 1.3 },
      { label: 'TC Mem (y2)', data: tcMem, color: '#3cb486', w: 1.6, y2: true },
    ],
    labels: [
      serif('TC cell population(cells per mm³)', 654, 214, 8.4),
      serif('days', 655, 402.5, 8.6),
      serif('memory cells', 778, 302, 8, true),
      serif('F', 650.7, 416.5, 14),
    ],
  },
  {
    id: 'g', box: [26.7, 446, 215, 587], yDom: [300, 390], yTicks: nkTicks, mirrorLabels: true,
    fsY: 7, fsX: 7,
    legend: { x: 185, l0: 188.3, l1: 206.7, y0: 452.7, dy: 8, fs: 6.2 },
    series: [{ label: 'Total', data: nkTotal, color: COL.black, w: 1.3 }],
    labels: [
      serif('NK cell population(cells per mm³ )', 128, 438, 8.2),
      serif('days', 121.7, 606.5, 8.6),
      serif('G', 115.3, 621, 14),
    ],
  },
  {
    id: 'h', box: [280.3, 442.3, 492, 585.7], yDom: [0, 250], yTicks: maTicks,
    fsY: 7, fsX: 7,
    legend: { x: 461.3, l0: 464.3, l1: 484.7, y0: 448.3, dy: 7.6, fs: 6.5 },
    series: [
      { label: 'INTERNALIZED', data: maInternalized, color: COL.orange, w: 1.3 },
      { label: 'PRESENTING-2', data: maPresenting, color: COL.green, w: 1.3 },
      { label: 'Total', data: maTotal, color: COL.black, w: 1.3 },
      { label: 'ACTIVE', data: maActive, color: COL.purple, w: 1.4 },
      { label: 'RESTING', data: maResting, color: COL.blue, w: 1.3 },
    ],
    labels: [
      serif('MA population per state (cells per mm³)', 384.3, 436, 8.2),
      serif('days', 385.3, 605.5, 8.6),
      serif('H', 384, 621, 14),
    ],
  },
  {
    id: 'i', box: [554.7, 427.3, 754, 585], yDom: [0, 450000], yTicks: cytoTicks,
    fsY: 6, fsX: 6.8,
    legend: { x: 577.3, l0: 581, l1: 600, y0: 434.7, dy: 7.35, fs: 6.6 },
    series: [
      { label: 'IFN-g', data: ifnG, color: COL.purple, w: 1.6, smooth: true },
      { label: 'IL-4', data: il4, color: COL.green, smooth: true },
      { label: 'IL-12', data: il12, color: COL.blue, smooth: true },
      { label: 'TGF-b', data: tgfB, color: COL.orange, w: 1.5, smooth: true },
      { label: 'TNF-a', data: tnfA, color: '#ec6a5e', smooth: true },
      { label: 'IL-10', data: il10, color: COL.gray, smooth: true },
      { label: 'IL-6', data: il6, color: COL.lavender, smooth: true },
      { label: 'IFN-b', data: ifnB, color: COL.teal, smooth: true },
      { label: 'IL-18', data: il18, color: COL.pale, smooth: true },
      { label: 'IL-23', data: il23, color: COL.sand, smooth: true },
    ],
    labels: [
      serif('ng/mL', 519, 510, 8.6, true),
      serif('days', 650.7, 606.5, 8.6),
      serif('I', 650.7, 621, 14),
    ],
  },
  {
    id: 'i2', box: [642.3, 436.7, 754, 518.3], yDom: [0, 700000], yTicks: il2Ticks, bg: true,
    fsY: 6.8, fsX: 6.8,
    legend: { x: 660.7, l0: 664.7, l1: 685.7, y0: 443.3, dy: 7.7, fs: 6.8 },
    series: [
      { label: 'D', data: dangerSignal, color: COL.blue, smooth: true },
      { label: 'IL-2', data: il2, color: '#e8aa3a', w: 2.4, smooth: true },
    ],
    labels: [],
  },
];

const FRAME = '#a2a2a2';
const TICK = 3.5;
const INK = '#444';

const Panel: React.FC<{ s: Spec }> = ({ s }) => {
  const [l, t, r, b] = s.box;
  const x = d3.scaleLinear().domain([0, 350]).range([l, r]);
  const y = d3.scaleLinear().domain(s.yDom).range([b, t]);
  const y2 = s.y2Dom ? d3.scaleLinear().domain(s.y2Dom).range([b, t]) : null;
  const pathOf = (se: Series) => {
    const ys = se.y2 && y2 ? y2 : y;
    return (
      d3
        .line<Pt>()
        .x((d) => x(d[0]))
        .y((d) => ys(d[1]))
        .curve(se.smooth ? d3.curveMonotoneX : d3.curveLinear)(se.data) ?? ''
    );
  };
  const lg = s.legend;
  const keyed = s.series.filter((se) => se.label);
  return (
    <g>
      {s.bg && <rect x={l} y={t} width={r - l} height={b - t} fill="#fff" />}
      <clipPath id={`clip-${s.id}`}>
        <rect x={l - 1} y={t - 1} width={r - l + 2} height={b - t + 2} />
      </clipPath>

      {/* x ticks, mirrored on top */}
      {dayTicks.map((d) => (
        <g key={`x${d}`}>
          <line x1={x(d)} x2={x(d)} y1={b} y2={b - TICK} stroke={FRAME} />
          <line x1={x(d)} x2={x(d)} y1={t} y2={t + TICK} stroke={FRAME} />
          <text x={x(d)} y={b + 3 + s.fsX * 0.95} fontSize={s.fsX} textAnchor="middle" fontFamily={SANS} fill={INK}>
            {d}
          </text>
        </g>
      ))}

      {/* left ticks */}
      {s.yTicks.map((v) => (
        <g key={`y${v}`}>
          <line x1={l} x2={l + TICK} y1={y(v)} y2={y(v)} stroke={FRAME} />
          {!y2 && <line x1={r} x2={r - TICK} y1={y(v)} y2={y(v)} stroke={FRAME} />}
          <text x={l - 4} y={y(v) + s.fsY * 0.36} fontSize={s.fsY} textAnchor="end" fontFamily={SANS} fill={INK}>
            {v}
          </text>
          {s.mirrorLabels && (
            <text x={r + 5} y={y(v) + s.fsY * 0.36} fontSize={s.fsY} textAnchor="start" fontFamily={SANS} fill={INK}>
              {v}
            </text>
          )}
        </g>
      ))}

      {/* right axis */}
      {y2 &&
        (s.y2Ticks ?? []).map((v) => (
          <g key={`r${v}`}>
            <line x1={r} x2={r - TICK} y1={y2(v)} y2={y2(v)} stroke={FRAME} />
            <text x={r + 5} y={y2(v) + s.fsY * 0.36} fontSize={s.fsY} textAnchor="start" fontFamily={SANS} fill={INK}>
              {v}
            </text>
          </g>
        ))}

      <rect x={l} y={t} width={r - l} height={b - t} fill="none" stroke={FRAME} />

      {/* key */}
      {lg && (
        <g fontFamily={SANS} fontSize={lg.fs} fill={INK}>
          {lg.title && (
            <text x={lg.title[1]} y={lg.title[2] + lg.fs * 0.36} textAnchor="middle">
              {lg.title[0]}
            </text>
          )}
          {keyed.map((se, i) => {
            const ky = lg.y0 + i * lg.dy;
            return (
              <g key={se.label}>
                <text x={lg.x} y={ky + lg.fs * 0.36} textAnchor="end">
                  {se.label}
                </text>
                <line x1={lg.l0} x2={lg.l1} y1={ky} y2={ky} stroke={se.color} strokeWidth={se.w ?? 1.3} strokeDasharray={se.dash} />
              </g>
            );
          })}
        </g>
      )}

      <g clipPath={`url(#clip-${s.id})`} fill="none" strokeLinejoin="round">
        {s.series.map((se, i) => (
          <path key={i} d={pathOf(se)} stroke={se.color} strokeWidth={se.w ?? 1.3} strokeDasharray={se.dash} />
        ))}
      </g>

      {s.labels.map((lb, i) =>
        lb.rot ? (
          <text
            key={i}
            transform={`translate(${lb.x},${lb.y}) rotate(-90)`}
            dy="0.35em"
            textAnchor="middle"
            fontSize={lb.size}
            fontFamily={lb.font ?? SERIF}
            fill="#222"
          >
            {lb.text}
          </text>
        ) : (
          <text key={i} x={lb.x} y={lb.y} textAnchor="middle" fontSize={lb.size} fontFamily={lb.font ?? SERIF} fill="#222">
            {lb.text}
          </text>
        ),
      )}
    </g>
  );
};

export default function App() {
  return (
    <svg
      width={784}
      height={623}
      viewBox="0 0 784 623"
      style={{ position: 'absolute', left: 0, top: 0, background: '#fff' }}
    >
      <rect width={784} height={623} fill="#fff" />
      {panels.map((p) => (
        <Panel key={p.id} s={p} />
      ))}
    </svg>
  );
}
